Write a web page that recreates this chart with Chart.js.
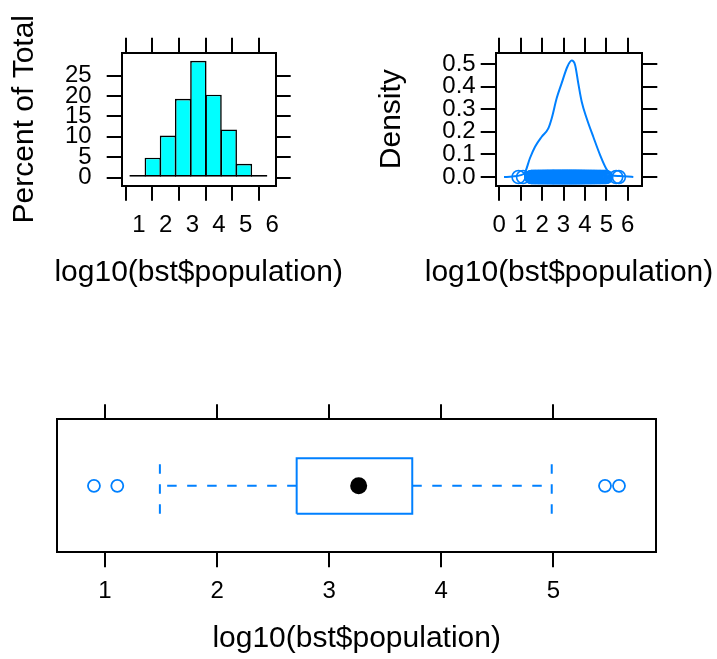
<!DOCTYPE html>
<html>
<head>
<meta charset="utf-8">
<script src="https://cdn.jsdelivr.net/npm/chart.js@4.4.1/dist/chart.umd.min.js"></script>
<style>
  html, body { margin: 0; padding: 0; background: #fff; }
  #wrap { position: relative; width: 717px; height: 659px; overflow: hidden; }
  canvas { position: absolute; }
</style>
</head>
<body>
<div id="wrap">
  <canvas id="histChart" width="360" height="300" style="left:0;top:0"></canvas>
  <canvas id="densChart" width="357" height="300" style="left:360px;top:0"></canvas>
  <canvas id="bwChart" width="717" height="279" style="left:0;top:380px"></canvas>
</div>
<script>
// histogram of log10(population), percent of total per bin
var histBinCenters = [0.947, 1.517, 2.087, 2.657, 3.227, 3.797, 4.367, 4.937, 5.507];
var histPercent = [0.66, 4.9, 10.3, 19.3, 28.6, 20.3, 11.8, 3.4, 0.66];

// kernel density estimate
var densX = [0.22, 0.6, 1.0, 1.2, 1.43, 1.67, 1.98, 2.29, 2.45, 2.68, 2.91, 3.18, 3.38, 3.54, 3.69, 3.85, 4.08, 4.39, 4.71, 4.99, 5.25, 5.6, 6.0, 6.26];
var densY = [0.0, 0.002, 0.008, 0.02, 0.083, 0.134, 0.178, 0.215, 0.26, 0.348, 0.414, 0.488, 0.515, 0.496, 0.414, 0.333, 0.26, 0.178, 0.097, 0.038, 0.009, 0.004, 0.002, 0.0];

// observations, drawn as circles along the bottom of the density panel
var rugX = [0.90, 1.11,
  1.49, 1.52, 1.56, 1.59, 1.63, 1.65, 1.69, 1.71, 1.74, 1.78, 1.80, 1.83, 1.85, 1.88, 1.91, 1.93, 1.96, 1.98,
  2.01, 2.03, 2.05, 2.07, 2.09, 2.12, 2.13, 2.16, 2.18, 2.20, 2.21, 2.24, 2.25, 2.27, 2.28, 2.31, 2.32, 2.34,
  2.35, 2.38, 2.39, 2.41, 2.42, 2.44, 2.46, 2.47, 2.49,
  2.50, 2.51, 2.53, 2.54, 2.55, 2.57, 2.58, 2.60, 2.61, 2.63, 2.64, 2.66, 2.67, 2.69, 2.70, 2.72, 2.73, 2.75,
  2.76, 2.78, 2.79, 2.81, 2.82, 2.84, 2.85, 2.87, 2.88, 2.90, 2.91, 2.93, 2.94, 2.95, 2.97, 2.98,
  3.00, 3.01, 3.02, 3.04, 3.05, 3.06, 3.08, 3.09, 3.11, 3.12, 3.13, 3.15, 3.16, 3.17, 3.19, 3.20, 3.21, 3.23,
  3.24, 3.26, 3.27, 3.28, 3.30, 3.31, 3.32, 3.34, 3.35, 3.37, 3.38, 3.39, 3.41, 3.42, 3.44, 3.45, 3.47, 3.48, 3.49,
  3.51, 3.52, 3.54, 3.55, 3.57, 3.58, 3.60, 3.61, 3.63, 3.64, 3.66, 3.68, 3.69, 3.71, 3.72, 3.74, 3.76, 3.77,
  3.79, 3.81, 3.83, 3.84, 3.86, 3.88, 3.90, 3.92, 3.94, 3.96, 3.98,
  4.00, 4.02, 4.05, 4.07, 4.09, 4.12, 4.14, 4.17, 4.19, 4.22, 4.25, 4.27, 4.30, 4.33, 4.36, 4.39, 4.42, 4.45, 4.48,
  4.52, 4.55, 4.59, 4.63, 4.67, 4.71, 4.75, 4.80, 4.85, 4.90, 4.95, 4.99,
  5.46, 5.585];

// box and whisker summary
var boxQuartiles = [2.71, 3.263, 3.741];   // lower hinge, median, upper hinge
var whiskerEnds = [1.49, 4.985];
var outlierValues = [0.902, 1.11, 5.46, 5.585];

// tick labels
var histXTicks = [1, 2, 3, 4, 5, 6];
var histYTicks = [0, 5, 10, 15, 20, 25];
var densXTicks = [0, 1, 2, 3, 4, 5, 6];
var densYTicks = [0, 0.1, 0.2, 0.3, 0.4, 0.5];
var bwXTicks = [1, 2, 3, 4, 5];

var xLabel = 'log10(bst$population)';

var FONT = "'Liberation Sans', Arial, Helvetica, sans-serif";
var BLUE = '#0080ff';

/**
 * One side of a lattice style panel frame: ticks outside, optional labels
 */
function panelAxis(pos, min, max, tickValues, size, opts) {
    opts = opts || {};
    var horizontal = (pos === 'top' || pos === 'bottom');
    return {
        type: 'linear',
        position: pos,
        min: min,
        max: max,
        bounds: 'data',
        offset: false,
        afterBuildTicks: function (scale) {
            scale.ticks = tickValues.map(function (v) { return { value: v }; });
        },
        afterFit: function (scale) {
            if (horizontal) {
                scale.height = size;
            } else {
                scale.width = size;
            }
        },
        grid: {
            display: tickValues.length > 0,
            drawOnChartArea: false,
            drawTicks: true,
            tickLength: 15,
            tickWidth: 2,
            tickColor: '#000',
            color: '#000',
            lineWidth: 2
        },
        border: {
            display: true,
            color: '#000',
            width: 2
        },
        ticks: {
            display: !!opts.labels,
            color: '#000',
            padding: opts.pad || 10,
            autoSkip: false,
            maxRotation: 0,
            font: { family: FONT, size: 24 },
            callback: opts.format || function (v) { return String(v); }
        },
        title: opts.title ? {
            display: true,
            text: opts.title,
            color: '#000',
            font: { family: FONT, size: 30 },
            padding: { top: opts.titlePad, bottom: 0 }
        } : { display: false }
    };
}

// x axis label, centred under the panel (axis titles get squeezed to the panel width)
var xTitlePlugin = {
    id: 'xTitle',
    afterDraw: function (chart, args, opts) {
        var ctx = chart.ctx;
        var area = chart.chartArea;
        ctx.save();
        ctx.font = '30px ' + FONT;
        ctx.fillStyle = '#000';
        ctx.textAlign = 'center';
        ctx.textBaseline = 'middle';
        ctx.fillText(opts.text, (area.left + area.right) / 2, area.bottom + opts.offset);
        ctx.restore();
    }
};

var baseOptions = function (scales, titleText) {
    return {
        responsive: false,
        animation: false,
        devicePixelRatio: 1,
        layout: { padding: 0 },
        plugins: {
            legend: { display: false },
            tooltip: { enabled: false },
            xTitle: { text: titleText, offset: 86.7 }
        },
        scales: scales
    };
};

// Histogram panel
new Chart(document.getElementById('histChart'), {
    type: 'bar',
    data: {
        datasets: [{
            data: histBinCenters.map(function (c, i) { return { x: c, y: histPercent[i] }; }),
            backgroundColor: '#00ffff',
            borderColor: '#000',
            borderWidth: 1.6,
            borderSkipped: false,
            barPercentage: 1.08,
            categoryPercentage: 1
        }]
    },
    options: baseOptions({
        x: panelAxis('bottom', 0.351, 6.128, histXTicks, 114.3, { labels: true, pad: 10 }),
        x2: panelAxis('top', 0.351, 6.128, histXTicks, 52.7),
        y: panelAxis('left', -1.96, 30.6, histYTicks, 121.7, { labels: true, pad: 15, title: 'Percent of Total', titlePad: 7 }),
        y2: panelAxis('right', -1.96, 30.6, histYTicks, 84.3)
    }, xLabel),
    plugins: [xTitlePlugin]
});

// Density panel
new Chart(document.getElementById('densChart'), {
    type: 'scatter',
    data: {
        datasets: [{
            data: densX.map(function (x, i) { return { x: x, y: densY[i] }; }),
            showLine: true,
            borderColor: BLUE,
            borderWidth: 2,
            pointRadius: 0,
            cubicInterpolationMode: 'monotone'
        }, {
            data: rugX.map(function (x) { return { x: x, y: 0 }; }),
            pointRadius: 6.5,
            pointBorderWidth: 1.6,
            pointBorderColor: BLUE,
            pointBackgroundColor: 'rgba(0,0,0,0)'
        }]
    },
    options: baseOptions({
        x: panelAxis('bottom', -0.168, 6.68, densXTicks, 114.3, { labels: true, pad: 10 }),
        x2: panelAxis('top', -0.168, 6.68, densXTicks, 52.7),
        y: panelAxis('left', -0.0385, 0.55, densYTicks, 135.7, {
            labels: true, pad: 5, title: 'Density', titlePad: 13.7,
            format: function (v) { return v.toFixed(1); }
        }),
        y2: panelAxis('right', -0.0385, 0.55, densYTicks, 74.7)
    }, xLabel),
    plugins: [xTitlePlugin]
});

// Box and whisker panel
var boxLow = 0.29, boxHigh = 0.707, boxMid = 0.5;
var dash = [9.5, 10.5];
var lineStyle = { showLine: true, borderColor: BLUE, borderWidth: 2, pointRadius: 0, tension: 0 };

function seg(points, extra) {
    return Object.assign({ data: points }, lineStyle, extra || {});
}

new Chart(document.getElementById('bwChart'), {
    type: 'scatter',
    data: {
        datasets: [
            {
                data: [{ x: boxQuartiles[1], y: boxMid }],
                pointRadius: 8.5,
                pointBackgroundColor: '#000',
                pointBorderColor: '#000',
                pointBorderWidth: 0
            },
            {
                data: outlierValues.map(function (v) { return { x: v, y: boxMid }; }),
                pointRadius: 6,
                pointBorderWidth: 1.8,
                pointBorderColor: BLUE,
                pointBackgroundColor: 'rgba(0,0,0,0)'
            },
            seg([
                { x: boxQuartiles[0], y: boxLow }, { x: boxQuartiles[2], y: boxLow },
                { x: boxQuartiles[2], y: boxHigh }, { x: boxQuartiles[0], y: boxHigh },
                { x: boxQuartiles[0], y: boxLow }
            ]),
            seg([{ x: boxQuartiles[0], y: boxMid }, { x: whiskerEnds[0], y: boxMid }], { borderDash: dash }),
            seg([{ x: boxQuartiles[2], y: boxMid }, { x: whiskerEnds[1], y: boxMid }], { borderDash: dash }),
            seg([{ x: whiskerEnds[0], y: boxLow }, { x: whiskerEnds[0], y: boxHigh }], { borderDash: dash }),
            seg([{ x: whiskerEnds[1], y: boxLow }, { x: whiskerEnds[1], y: boxHigh }], { borderDash: dash })
        ]
    },
    options: baseOptions({
        x: panelAxis('bottom', 0.575, 5.915, bwXTicks, 106.7, { labels: true, pad: 10 }),
        x2: panelAxis('top', 0.575, 5.915, bwXTicks, 39.3),
        y: panelAxis('left', 0, 1, [], 57.3),
        y2: panelAxis('right', 0, 1, [], 61)
    }, xLabel),
    plugins: [xTitlePlugin]
});
</script>
</body>
</html>
